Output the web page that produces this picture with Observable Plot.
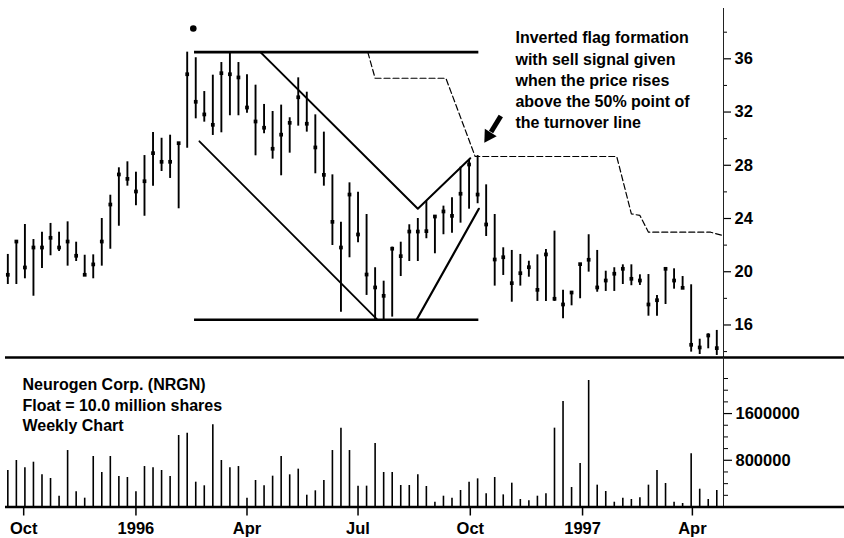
<!DOCTYPE html>
<html><head><meta charset="utf-8">
<script src="https://cdn.jsdelivr.net/npm/d3@7"></script>
<script src="https://cdn.jsdelivr.net/npm/@observablehq/plot@0.6"></script>
<style>
html,body{margin:0;padding:0;background:#fff;}
#chart{width:844px;height:538px;overflow:hidden;position:relative;}
#chart svg{display:block;overflow:visible;}
</style></head><body><div id="chart"></div>
<script>
// ---- data (weekly bars, Neurogen Corp.) ----
const firstWeek = "1995-09-18";
const high = [21.30,22.35,23.55,22.42,22.97,23.63,22.97,23.75,22.22,21.24,
  21.27,24.00,25.75,27.81,28.26,27.48,28.73,30.46,30.03,30.26,
  29.66,36.50,36.08,33.54,34.77,35.72,36.47,35.72,34.80,34.02,
  32.57,32.04,32.52,31.57,34.57,33.49,31.79,30.49,27.28,23.72,
  26.68,25.98,24.30,20.30,19.29,21.85,22.22,23.53,24.00,25.28,
  24.23,24.93,25.56,27.86,28.36,28.73,26.53,24.30,21.80,21.60,
  21.30,20.79,21.27,21.67,23.05,18.61,18.52,20.60,22.78,21.60,
  20.04,20.30,20.52,20.52,19.77,19.79,18.22,20.27,20.22,19.64,
  19.02,14.93,15.34,15.59];
const low = [19.04,19.04,19.47,18.16,20.24,21.20,21.52,20.42,20.77,19.72,
  19.47,20.42,21.69,23.42,26.43,24.96,24.17,26.43,27.53,27.01,
  24.73,29.28,31.49,31.24,30.24,30.44,31.72,31.72,31.91,28.71,
  30.37,28.46,27.21,28.91,30.94,30.49,27.36,26.43,21.97,16.96,
  21.05,22.18,18.22,16.39,16.39,16.59,19.64,20.77,20.77,22.48,
  21.35,22.78,22.90,23.65,24.70,25.11,22.65,18.92,19.72,17.71,
  18.92,19.59,17.77,17.77,17.77,16.47,17.44,17.97,19.97,18.46,
  18.52,18.52,19.04,18.95,18.97,16.66,16.66,17.54,18.69,18.72,
  13.96,13.78,14.21,13.71];
const close = [19.77,22.27,20.32,21.82,21.82,22.55,21.82,22.27,21.20,19.77,
  20.55,22.27,25.05,27.31,26.98,26.03,26.80,28.91,28.26,28.26,
  29.66,34.84,32.77,31.82,31.04,34.92,34.84,34.60,32.34,31.29,
  30.82,29.24,30.30,31.19,33.11,31.12,29.34,27.28,23.75,21.82,
  25.80,22.80,19.79,18.82,18.19,21.73,21.17,23.02,23.02,23.05,
  24.15,24.53,24.20,25.86,28.06,25.80,23.55,20.92,21.09,19.14,
  19.89,20.34,18.64,21.30,17.97,17.54,18.44,20.57,20.90,18.82,
  19.34,19.85,20.22,19.47,19.34,17.54,17.86,20.22,19.34,18.79,
  14.51,14.31,15.21,14.26];
const volume = [625000,796000,671000,767000,551000,488000,185000,967000,260000,151000,
  865000,591000,865000,522000,505000,260000,693000,671000,625000,522000,
  1224000,1264000,425000,363000,1407000,796000,671000,693000,151000,454000,
  363000,528000,865000,551000,648000,202000,277000,454000,967000,1350000,
  967000,357000,357000,1087000,591000,591000,368000,368000,551000,351000,
  82000,185000,151000,283000,425000,482000,226000,505000,208000,408000,
  128000,106000,185000,226000,1350000,1806000,334000,745000,2166000,374000,
  265000,82000,151000,128000,157000,374000,625000,402000,82000,60000,
  911000,305000,128000,283000];

// ---- ticks ----
const xTickDates = ["1995-10-01","1996-01-01","1996-04-01","1996-07-01","1996-10-01","1997-01-01","1997-04-01"];
const xTickLabels = ["Oct","1996","Apr","Jul","Oct","1997","Apr"];
const priceTicks = [16,20,24,28,32,36];
const priceMinorTicks = [14,18,22,26,30,34,38];
const volumeTicks = [800000,1600000];
const volumeMinorTicks = [200000,400000,600000,1000000,1200000,1400000,1800000,2000000,2200000];

// ---- annotations (drawn lines of the pattern) ----
const flagLevels = [36.5, 16.39];
const flagSpan = ["1996-02-18","1996-10-08"];
const upperLineDates = ["1996-04-12","1996-08-19","1996-10-01"];
const upperLinePrices = [36.5, 24.73, 28.53];
const lowerLineDates = ["1996-02-22","1996-07-17"];
const lowerLinePrices = [29.8, 16.39];
const riseLineDates = ["1996-08-18","1996-10-08"];
const riseLinePrices = [16.39, 24.73];
const stopDates = ["1996-07-09","1996-07-15","1996-09-11","1996-10-05","1997-01-29","1997-02-10","1997-02-17","1997-02-24","1997-04-16","1997-04-26"];
const stopPrices = [36.5, 34.54, 34.54, 28.66, 28.66, 24.35, 24.23, 22.97, 22.97, 22.72];
const arrowTail = {date: "1996-10-26", price: 31.7};
const arrowShaftEnd = {date: "1996-10-18", price: 30.5};
const arrowHead = {date: "1996-10-16", price: 30.2};
const markerDot = {date: "1996-02-17", price: 38.28};
const noteText = "Inverted flag formation\nwith sell signal given\nwhen the price rises\nabove the 50% point of\nthe turnover line";
const noteAt = {date: "1996-11-07", price: 38.3};
const stockText = "Neurogen Corp. (NRGN)\nFloat = 10.0 million shares\nWeekly Chart";

// ---- build ----
const D = s => new Date(s + "T00:00:00Z");
const weeks = high.map((_, i) => d3.utcDay.offset(D(firstWeek), 7 * i));
const bars = weeks.map((date, i) => ({date, high: high[i], low: low[i], close: close[i], volume: volume[i]}));
const toPts = (ds, ps) => ds.map((d, i) => ({date: D(d), price: ps[i]}));
const upperLine = toPts(upperLineDates, upperLinePrices);
const lowerLine = toPts(lowerLineDates, lowerLinePrices);
const riseLine = toPts(riseLineDates, riseLinePrices);
const stopLine = toPts(stopDates, stopPrices);
const tickLabel = new Map(xTickDates.map((d, i) => [+D(d), xTickLabels[i]]));

const W = 844, AXIS_X = 723;
const xDomain = [D("1995-09-12"), new Date(Date.UTC(1997, 3, 26, 12))];
const msPerPx = (xDomain[1] - xDomain[0]) / AXIS_X;
const lineStart = new Date(+xDomain[0] + 5 * msPerPx);
const lineEnd = new Date(+xDomain[1] + (W - AXIS_X) * msPerPx);

const FONT = `"Liberation Sans", Arial, Helvetica, sans-serif`;
const style = {fontFamily: FONT, fontWeight: "bold", fontSize: "16px", color: "#000", background: "transparent", overflow: "visible"};

const pricePlot = Plot.plot({
  width: W, height: 357,
  marginLeft: 0, marginRight: W - AXIS_X, marginTop: 8, marginBottom: 0,
  style,
  x: {type: "utc", domain: xDomain, axis: null},
  y: {domain: [13.556, 39.78], axis: null},
  marks: [
    Plot.ruleX([xDomain[1]], {stroke: "#222", strokeWidth: 1}),
    Plot.axisY({ticks: priceMinorTicks, anchor: "right", tickSize: 3, tickFormat: () => "", label: null, strokeWidth: 1}),
    Plot.axisY({ticks: priceTicks, anchor: "right", tickSize: 7, tickPadding: 4, label: null, strokeWidth: 1.2, fontSize: 16.5}),
    Plot.ruleY(flagLevels, {x1: D(flagSpan[0]), x2: D(flagSpan[1]), strokeWidth: 2.6}),
    Plot.line(upperLine, {x: "date", y: "price", strokeWidth: 2}),
    Plot.line(lowerLine, {x: "date", y: "price", strokeWidth: 1.8}),
    Plot.line(riseLine, {x: "date", y: "price", strokeWidth: 2.2}),
    Plot.line(stopLine, {x: "date", y: "price", strokeWidth: 1.2, strokeDasharray: "6,3"}),
    Plot.ruleX(bars, {x: "date", y1: "low", y2: "high", strokeWidth: 1.9}),
    Plot.dot(bars, {x: "date", y: "close", symbol: "square", r: 2.1, fill: "black", stroke: null}),
    Plot.link([arrowTail], {x1: d => D(d.date), y1: "price", x2: D(arrowShaftEnd.date), y2: arrowShaftEnd.price, strokeWidth: 5, strokeLinecap: "butt"}),
    Plot.dot([arrowHead], {x: d => D(d.date), y: "price", symbol: "triangle", r: 5.2, rotate: 212, fill: "black", stroke: null}),
    Plot.dot([markerDot], {x: d => D(d.date), y: "price", r: 3.3, fill: "black", stroke: null}),
    Plot.text([noteText], {x: D(noteAt.date), y: noteAt.price, text: d => d, textAnchor: "start", lineAnchor: "top", lineHeight: 1.33, fontSize: 16, fontWeight: "bold"}),
    Plot.ruleY([13.556], {x1: lineStart, x2: lineEnd, strokeWidth: 2.6})
  ]
});

const volumePlot = Plot.plot({
  width: W, height: 181,
  marginLeft: 0, marginRight: W - AXIS_X, marginTop: 0, marginBottom: 31.5,
  style,
  x: {type: "utc", domain: xDomain},
  y: {domain: [0, 2560000], axis: null},
  marks: [
    Plot.ruleX([xDomain[1]], {stroke: "#222", strokeWidth: 1}),
    Plot.ruleX(bars, {x: "date", y1: 0, y2: "volume", strokeWidth: 1.6}),
    Plot.axisY({ticks: volumeMinorTicks, anchor: "right", tickSize: 4, tickFormat: () => "", label: null, strokeWidth: 1}),
    Plot.axisY({ticks: volumeTicks, anchor: "right", tickSize: 8, tickPadding: 4, tickFormat: d => String(d), label: null, strokeWidth: 1.2, fontSize: 16.5}),
    Plot.axisX({ticks: xTickDates.map(D), tickSize: 9, tickPadding: 6, tickFormat: d => tickLabel.get(+d), label: null, strokeWidth: 1.5, fontSize: 16.5}),
    Plot.ruleY([0], {x1: lineStart, x2: lineEnd, strokeWidth: 2.6}),
    Plot.text([stockText], {frameAnchor: "top-left", dx: 22, dy: 18, text: d => d, textAnchor: "start", lineAnchor: "top", lineHeight: 1.29, fontSize: 16, fontWeight: "bold"})
  ]
});

const chart = document.getElementById("chart");
chart.append(pricePlot, volumePlot);
</script></body></html>
